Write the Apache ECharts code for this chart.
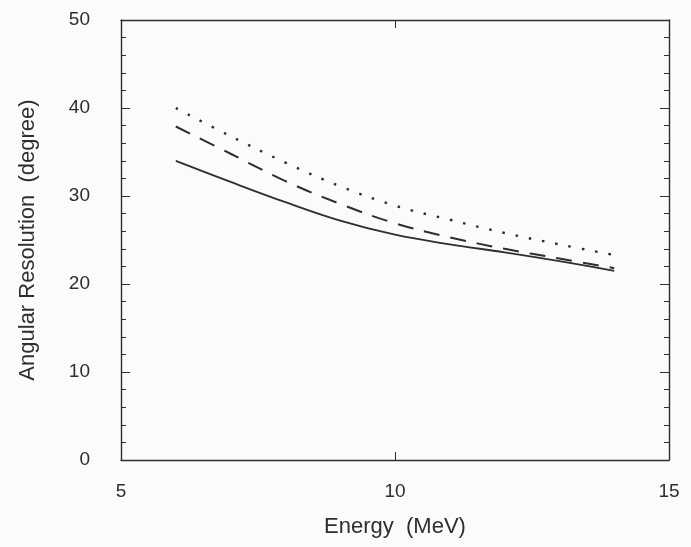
<!DOCTYPE html>
<html>
<head>
<meta charset="utf-8">
<script src="https://cdn.jsdelivr.net/npm/echarts@6/dist/echarts.min.js"></script>
<style>
  html, body { margin: 0; padding: 0; background: #fbfbfb; }
  #main { width: 691px; height: 547px; }
</style>
</head>
<body>
<div id="main"></div>
<script>
const energy = [6, 7, 8, 9, 10, 11, 12, 13, 14];
const solidRes = [34.0, 31.6, 29.3, 27.2, 25.6, 24.5, 23.6, 22.6, 21.5];
const dashedRes = [37.9, 34.8, 31.7, 29.1, 26.9, 25.3, 24.0, 22.9, 21.8];
const dottedRes = [40.0, 36.8, 33.8, 31.1, 28.9, 27.3, 25.8, 24.5, 23.3];

const chart = echarts.init(document.getElementById("main"));

function pairs(ys) {
    return energy.map((x, i) => [x, ys[i]]);
}

const ink = "#2e2e2e";
const font = "Liberation Sans";

function curve(name, ys, type, width) {
    return {
        name: name,
        type: "line",
        data: pairs(ys),
        smooth: 0.4,
        symbol: "none",
        lineStyle: { color: ink, width: width, type: type }
    };
}

let option = {
    backgroundColor: "#fbfbfb",
    animation: false,
    grid: { left: 121, right: 22, top: 20, bottom: 87 },
    xAxis: [
        {
            type: "value",
            min: 5, max: 15, interval: 5,
            name: "Energy  (MeV)",
            nameLocation: "middle",
            nameGap: 56,
            nameTextStyle: { color: ink, fontFamily: font, fontSize: 22 },
            axisLine: { show: true, onZero: false, lineStyle: { color: ink, width: 1.4 } },
            axisTick: { inside: true, length: 8, lineStyle: { color: ink } },
            axisLabel: { color: ink, fontFamily: font, fontSize: 19, margin: 22 },
            splitLine: { show: false }
        },
        {
            type: "value",
            position: "top",
            min: 5, max: 15, interval: 5,
            axisLine: { show: true, onZero: false, lineStyle: { color: ink, width: 1.4 } },
            axisTick: { inside: true, length: 8, lineStyle: { color: ink } },
            axisLabel: { show: false },
            splitLine: { show: false }
        }
    ],
    yAxis: [
        {
            type: "value",
            min: 0, max: 50, interval: 10,
            name: "Angular Resolution  (degree)",
            nameLocation: "middle",
            nameGap: 82,
            nameTextStyle: { color: ink, fontFamily: font, fontSize: 22 },
            axisLine: { show: true, lineStyle: { color: ink, width: 1.4 } },
            axisTick: { inside: true, length: 9, lineStyle: { color: ink } },
            minorTick: { show: true, splitNumber: 5, length: 5, lineStyle: { color: ink } },
            axisLabel: { color: ink, fontFamily: font, fontSize: 19, margin: 31 },
            splitLine: { show: false }
        },
        {
            type: "value",
            position: "right",
            min: 0, max: 50, interval: 10,
            axisLine: { show: true, lineStyle: { color: ink, width: 1.4 } },
            axisTick: { inside: true, length: 9, lineStyle: { color: ink } },
            minorTick: { show: true, splitNumber: 5, length: 5, lineStyle: { color: ink } },
            axisLabel: { show: false },
            splitLine: { show: false }
        }
    ],
    series: [
        curve("solid", solidRes, "solid", 1.8),
        curve("dashed", dashedRes, [16, 11], 2),
        curve("dotted", dottedRes, [2.5, 11], 2.4)
    ]
};
chart.setOption(option);
</script>
</body>
</html>
